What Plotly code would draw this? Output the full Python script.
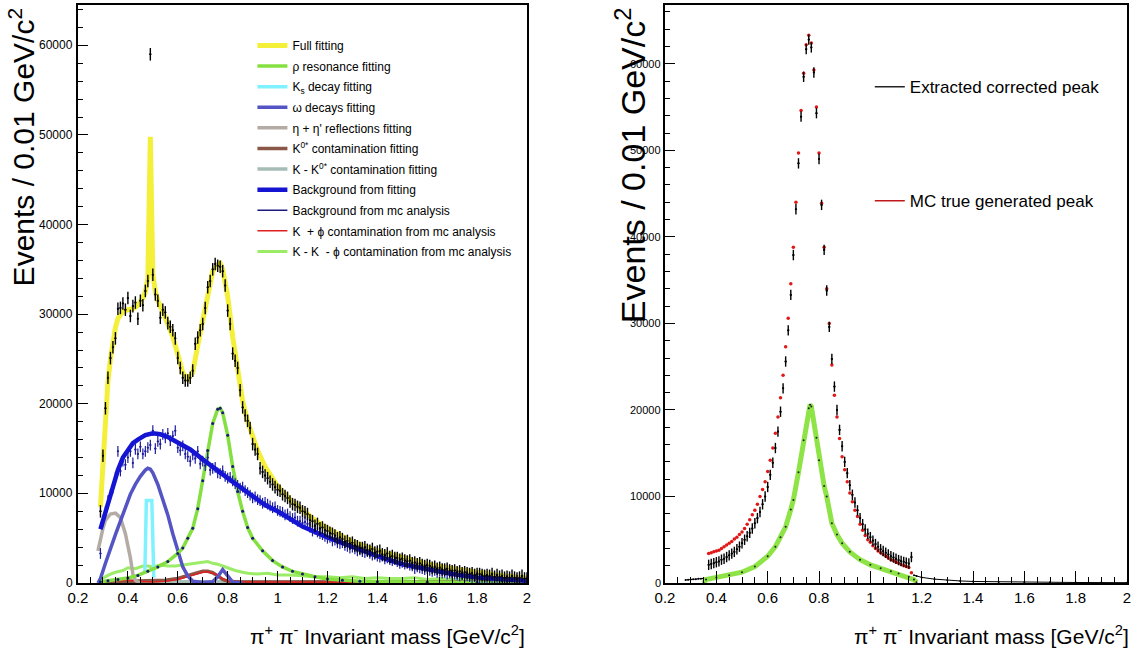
import plotly.graph_objects as go

FONT = "Liberation Sans, Arial, Helvetica, sans-serif"

# ---------------- LEFT PANEL DATA ----------------
# bin centres (0.01 GeV/c^2 bins) from 0.29 to 2.00
bins_left = [round(0.29 + 0.01 * i, 2) for i in range(172)]

data_events = [
    8000, 14200, 19500, 22900, 25100, 26300, 27300, 30600, 30700, 31200,
    30500, 31800, 29800, 30900, 31300, 29500, 31500, 31000, 32600, 33700,
    59000, 34400, 32200, 31500, 29600, 30500, 30200, 29000, 28600, 28200,
    27300, 25100, 24000, 22900, 22600, 22600, 22900, 23700, 26700, 27400,
    28200, 28900, 30700, 33000, 33700, 35000, 35600, 35400, 35300, 34800,
    33200, 30400, 28900, 25600, 24800, 24000, 21500, 19600, 18700, 18100,
    17300, 15500, 14900, 14400, 12800, 12400, 12000, 11700, 11300, 11000,
    10700, 10400, 10300, 9900, 9700, 9500, 9100, 8800, 8700, 8500,
    8400, 8000, 7900, 7700, 7000, 6900, 6400, 6600, 6100, 6200,
    5900, 5800, 5600, 5500, 5300, 5000, 5100, 4900, 4600, 4700,
    4400, 4500, 4200, 4100, 3900, 3900, 4000, 3700, 3600, 3800,
    3400, 3500, 3600, 3200, 3100, 3300, 2900, 3000, 2800, 2800,
    2600, 2700, 2500, 2400, 2500, 2200, 2300, 2100, 2200, 2000,
    1900, 2000, 1900, 1700, 1800, 1600, 1700, 1500, 1500, 1600,
    1400, 1300, 1400, 1200, 1300, 1100, 1200, 1100, 1000, 1100,
    900, 1000, 1000, 900, 800, 900, 800, 1000, 700, 900,
    700, 800, 600, 700, 600, 800, 600, 500, 600, 800,
    500, 500,
]

bkg_mc_events = [
    3300, 6900, 8000, 9200, 9900, 10600, 11800, 14700, 12500, 13600,
    13200, 14000, 14700, 13400, 14900, 14400, 15200, 14400, 14700, 15100,
    15400, 17000, 15000, 15800, 15500, 16600, 16200, 16700, 15900, 16400,
    17000, 15100, 14800, 15300, 14400, 14100, 13600, 14300, 13900, 14700,
    13300, 13600, 13100, 14000, 12600, 12800, 12900, 12300, 12200, 12500,
    11900, 11700, 11800, 11400, 11100, 10900, 10600, 10700, 10300, 10100,
    9800, 9500, 9600, 9300, 9200, 8900, 9000, 8800, 8600, 8400,
    8500, 8100, 8000, 7900, 7600, 7700, 7400, 7200, 7300, 6900,
    6900, 6700, 6800, 6600, 6200, 5800, 6000, 5700, 5500, 5400,
    5200, 5000, 5100, 4700, 4800, 4500, 4400, 4500, 4200, 4100,
    3900, 4000, 3800, 3600, 3700, 3500, 3400, 3500, 3300, 3100,
    3200, 3000, 2900, 3000, 2700, 2800, 2600, 2500, 2600, 2400,
    2200, 2300, 2100, 2200, 2000, 1900, 1600, 1800, 1700, 1600,
    1500, 1600, 1400, 1300, 1400, 1200, 1300, 1100, 1200, 1000,
    1100, 900, 1000, 900, 800, 900, 700, 800, 700, 600,
    700, 600, 500, 600, 500, 400, 500, 400, 500, 300,
    400, 300, 400, 300, 200, 300, 200, 300, 200, 200,
    200, 100,
]

full_fit_x = [0.29, 0.30, 0.31, 0.32, 0.33, 0.34, 0.35, 0.36, 0.38, 0.40, 0.42, 0.44,
              0.46, 0.47, 0.48, 0.485, 0.49, 0.495, 0.50, 0.51, 0.52, 0.54, 0.56, 0.58,
              0.60, 0.62, 0.64, 0.66, 0.68, 0.70, 0.72, 0.74, 0.76, 0.77, 0.78, 0.80,
              0.82, 0.84, 0.86, 0.88, 0.90, 0.92, 0.95, 1.00, 1.05, 1.10, 1.15, 1.20,
              1.25, 1.30, 1.40, 1.50, 1.60, 1.70, 1.80, 1.90, 2.00]
full_fit_y = [8500, 14000, 19000, 22500, 25000, 27000, 28500, 29500, 30300, 30500, 30600, 31000,
              31800, 32500, 34000, 42000, 49800, 42000, 34500, 32500, 31500, 30300, 29000, 27500,
              25500, 23500, 22700, 23500, 26500, 29500, 32500, 34800, 35600, 35700, 35000, 32000,
              27500, 23500, 20300, 18000, 16200, 14800, 13000, 10800, 9300, 8100, 7000, 6100,
              5300, 4600, 3600, 2800, 2100, 1600, 1150, 800, 550]

rho_fit_x = [0.29, 0.32, 0.36, 0.40, 0.44, 0.48, 0.52, 0.56, 0.60, 0.62, 0.64, 0.66,
             0.68, 0.70, 0.72, 0.74, 0.76, 0.77, 0.78, 0.80, 0.82, 0.84, 0.86, 0.88,
             0.90, 0.94, 0.98, 1.02, 1.06, 1.10, 1.15, 1.20, 1.26, 1.33, 1.40, 1.60,
             1.80, 2.00]
rho_fit_y = [150, 250, 400, 560, 850, 1300, 1800, 2400, 3300, 3900, 5000, 6100,
             8300, 11400, 14800, 17800, 19400, 19500, 19000, 16500, 13000, 10200, 8000, 6200,
             5000, 3600, 2500, 1800, 1300, 1000, 700, 450, 300, 200, 150, 100,
             80, 60]

ks_fit_x = [0.468, 0.474, 0.485, 0.496, 0.504]
ks_fit_y = [1000, 9200, 9200, 9200, 600]

omega_fit_x = [0.28, 0.29, 0.31, 0.33, 0.35, 0.37, 0.39, 0.41, 0.43, 0.45, 0.47, 0.48,
               0.49, 0.50, 0.52, 0.54, 0.56, 0.58, 0.60, 0.62, 0.64, 0.66, 0.70, 0.74,
               0.76, 0.78, 0.80, 0.82, 0.86]
omega_fit_y = [0, 500, 2200, 3900, 5400, 6900, 8500, 9900, 11000, 11900, 12600, 12800,
               12700, 12300, 11000, 9400, 7600, 5500, 3500, 1800, 800, 200, 50, 150,
               700, 1500, 800, 100, 0]

eta_fit_x = [0.28, 0.29, 0.30, 0.31, 0.33, 0.35, 0.37, 0.39, 0.40, 0.41, 0.42, 0.43, 0.45]
eta_fit_y = [3600, 5000, 6100, 7000, 7700, 7800, 7300, 5500, 4200, 2800, 1000, 300, 0]

k0s_fit_x = [0.29, 0.40, 0.50, 0.55, 0.60, 0.64, 0.67, 0.70, 0.72, 0.74, 0.76, 0.78,
             0.80, 0.85, 1.00, 1.20, 1.40, 1.60, 1.80, 2.00]
k0s_fit_y = [100, 150, 200, 300, 500, 800, 1100, 1300, 1300, 1150, 800, 400,
             200, 100, 100, 150, 150, 150, 150, 150]

kk0s_fit_x = [0.29, 0.50, 0.80, 1.00, 1.20, 1.50, 2.00]
kk0s_fit_y = [100, 150, 150, 150, 150, 120, 100]

bkg_fit_x = [0.29, 0.30, 0.32, 0.34, 0.36, 0.38, 0.40, 0.42, 0.44, 0.47, 0.50, 0.53,
             0.56, 0.60, 0.65, 0.70, 0.75, 0.80, 0.85, 0.90, 0.95, 1.00, 1.10, 1.20,
             1.30, 1.40, 1.50, 1.60, 1.70, 1.80, 1.90, 2.00]
bkg_fit_y = [6000, 6900, 8900, 10900, 12600, 14000, 14900, 15600, 16000, 16500, 16700, 16600,
             16300, 15700, 14900, 13800, 12700, 11700, 10700, 9700, 8700, 8000, 6300, 5100,
             4000, 3000, 2100, 1500, 1000, 620, 400, 250]

kphi_mc_x = [0.29, 0.35, 0.40, 0.45, 0.50, 0.55, 0.60, 0.65, 0.70, 0.72, 0.75, 0.78,
             0.80, 0.90, 1.00, 1.20, 1.50, 2.00]
kphi_mc_y = [200, 300, 300, 200, 100, 200, 400, 800, 1200, 1250, 1000, 500,
             200, 100, 100, 50, 50, 50]

kkphi_mc_x = [0.29, 0.31, 0.33, 0.35, 0.38, 0.40, 0.43, 0.46, 0.48, 0.50, 0.53, 0.56,
              0.59, 0.62, 0.65, 0.68, 0.70, 0.72, 0.74, 0.76, 0.78, 0.80, 0.83, 0.86,
              0.88, 0.92, 0.96, 1.00, 1.05, 1.10, 1.14, 1.20, 1.25, 1.30, 1.35, 1.40,
              1.45, 1.50, 1.55, 1.60, 1.65, 1.70, 1.75, 1.80, 1.85, 1.90, 1.95, 2.00]
kkphi_mc_y = [400, 700, 1000, 1200, 1400, 1700, 1600, 1900, 1900, 1800, 2000, 1900,
              1900, 2000, 2100, 2200, 2300, 2400, 2200, 2100, 1900, 1700, 1400, 1200,
              1100, 1000, 1100, 900, 900, 800, 700, 700, 600, 700, 500, 600,
              500, 500, 600, 400, 500, 400, 400, 300, 400, 300, 300, 300]

# ---------------- RIGHT PANEL DATA ----------------
bins_right = [round(0.37 + 0.01 * i, 2) for i in range(80)]

extracted_peak = [
    2100, 2200, 2300, 2400, 2500, 2700, 2800, 3000, 3200, 3400,
    3600, 3900, 4200, 4600, 5000, 5400, 5800, 6300, 6900, 7500,
    8200, 9100, 10000, 11100, 12500, 13900, 15600, 17500, 19800, 22500,
    25600, 29200, 33300, 37900, 43200, 48500, 53900, 58500, 61700, 62800,
    61900, 59000, 54300, 49000, 43700, 38500, 33800, 29600, 25900, 22700,
    20000, 17700, 15800, 14000, 12700, 11300, 10200, 9300, 8400, 7500,
    6800, 6200, 5700, 5300, 4900, 4500, 4200, 3900, 3700, 3500,
    3300, 3100, 2950, 2800, 2650, 2550, 2450, 2350, 2250, 3000,
]

mc_true_peak = [
    3400, 3500, 3600, 3700, 3800, 4000, 4200, 4400, 4600, 4800,
    5100, 5300, 5600, 5900, 6300, 6800, 7300, 7900, 8400, 9100,
    10000, 10800, 11700, 12900, 14200, 15600, 17300, 19200, 21400, 24000,
    27300, 30600, 34600, 38800, 44000, 49700, 54600, 58900, 62200, 63300,
    62400, 59300, 55000, 49700, 43900, 38800, 34000, 30000, 25200, 21700,
    19200, 16700, 14600, 13100, 11700, 10400, 9400, 8400, 7700, 6800,
    6100, 5500, 5000, 4700, 4300, 4000, 3700, 3500, 3300, 3100,
    2900, 2700, 2600, 2400, 2300, 2150, 2000, 1900, 1800, 1200,
]

tail_x = [0.28, 0.29, 0.30, 0.31, 0.32, 0.33, 0.34, 0.35, 0.36, None,
          1.17, 1.18, 1.20, 1.25, 1.30, 1.35, 1.40, 1.50, 1.60, 1.70, 1.80, 1.90, 2.00]
tail_y = [350, 380, 400, 430, 450, 480, 500, 520, 560, None,
          900, 800, 650, 450, 320, 240, 180, 130, 100, 80, 60, 50, 40]

rho_right_x = [0.35, 0.36, 0.40, 0.45, 0.50, 0.55, 0.60, 0.63, 0.65, 0.67, 0.69, 0.70,
               0.72, 0.74, 0.76, 0.765, 0.77, 0.79, 0.80, 0.82, 0.83, 0.85, 0.87, 0.89,
               0.92, 0.96, 1.00, 1.04, 1.08, 1.11, 1.15, 1.17, 1.18]
rho_right_y = [0, 400, 650, 900, 1250, 1900, 3100, 4200, 5300, 6500, 8500, 9600,
               12800, 16500, 20200, 20600, 20400, 16800, 14200, 11200, 10000, 6900, 5600, 4600,
               3600, 2700, 2100, 1700, 1350, 1100, 730, 400, 100]

# y tick labels (both panels)
y_tick_values = [0, 10000, 20000, 30000, 40000, 50000, 60000]
y_tick_labels = ["0", "10000", "20000", "30000", "40000", "50000", "60000"]

# ---------------- FIGURE ----------------
fig = go.Figure()

def line_trace(x, y, name, color, width, rank, xa="x", ya="y", legend="legend", show=True):
    return go.Scatter(x=x, y=y, mode="lines", name=name, xaxis=xa, yaxis=ya,
                      line=dict(color=color, width=width), legendgroup=name,
                      legendrank=rank, legend=legend, showlegend=show, hoverinfo="skip")

# left panel, back to front
fig.add_trace(line_trace(kkphi_mc_x, kkphi_mc_y, "K - K  - ϕ contamination from mc analysis", "#9cec68", 3, 11))
fig.add_trace(line_trace(kk0s_fit_x, kk0s_fit_y, "K - K<sup>0*</sup> contamination fitting", "#a6bcb6", 3.5, 7))
fig.add_trace(line_trace(k0s_fit_x, k0s_fit_y, "K<sup>0*</sup> contamination fitting", "#8a5646", 3.5, 6))
fig.add_trace(line_trace(kphi_mc_x, kphi_mc_y, "K  + ϕ contamination from mc analysis", "#e02020", 1.5, 10))
fig.add_trace(line_trace(ks_fit_x, ks_fit_y, "K<sub>s</sub> decay fitting", "#80f2ff", 3.5, 3))
fig.add_trace(line_trace(eta_fit_x, eta_fit_y, "η + η' reflections fitting", "#b4aca4", 3.5, 5))
fig.add_trace(line_trace(omega_fit_x, omega_fit_y, "ω decays fitting", "#5454c4", 3.5, 4))
fig.add_trace(line_trace(rho_fit_x, rho_fit_y, "ρ resonance fitting", "#84e040", 3.5, 2))
fig.add_trace(go.Scatter(x=rho_fit_x, y=rho_fit_y, mode="markers", showlegend=False,
                         marker=dict(color="#1a1a70", size=3), hoverinfo="skip"))
fig.add_trace(line_trace(full_fit_x, full_fit_y, "Full fitting", "#f4f03a", 5, 1))
fig.add_trace(go.Scatter(x=bins_left, y=bkg_mc_events, mode="markers", showlegend=False,
                         marker=dict(color="#1c1c9c", size=2),
                         error_y=dict(type="constant", value=600, color="#1c1c9c", thickness=1.2, width=0),
                         error_x=dict(type="constant", value=0.004, color="#1c1c9c", thickness=1.2, width=0),
                         hoverinfo="skip"))
fig.add_trace(line_trace(bkg_fit_x, bkg_fit_y, "Background from fitting", "#1414d2", 4.5, 8))
fig.add_trace(line_trace([None], [None], "Background from mc analysis", "#1a1a80", 1.5, 9))
fig.add_trace(go.Scatter(x=bins_left, y=data_events, mode="markers", showlegend=False,
                         marker=dict(color="black", size=2),
                         error_y=dict(type="constant", value=700, color="black", thickness=1.4, width=0),
                         error_x=dict(type="constant", value=0.004, color="black", thickness=1.4, width=0),
                         hoverinfo="skip"))

# right panel
fig.add_trace(go.Scatter(x=tail_x, y=tail_y, mode="lines+markers", showlegend=False,
                         xaxis="x2", yaxis="y2", line=dict(color="black", width=1),
                         marker=dict(color="black", size=2), hoverinfo="skip"))
fig.add_trace(go.Scatter(x=rho_right_x, y=rho_right_y, mode="lines", showlegend=False,
                         xaxis="x2", yaxis="y2", line=dict(color="#8ee446", width=5),
                         hoverinfo="skip"))
fig.add_trace(go.Scatter(x=rho_right_x, y=rho_right_y, mode="markers", showlegend=False,
                         xaxis="x2", yaxis="y2", marker=dict(color="#202020", size=2),
                         hoverinfo="skip"))
fig.add_trace(go.Scatter(x=bins_right, y=mc_true_peak, mode="markers", showlegend=False,
                         xaxis="x2", yaxis="y2", marker=dict(color="#e01818", size=3.5),
                         hoverinfo="skip"))
fig.add_trace(go.Scatter(x=bins_right, y=extracted_peak, mode="markers", showlegend=False,
                         xaxis="x2", yaxis="y2", marker=dict(color="black", size=2),
                         error_y=dict(type="constant", value=600, color="black", thickness=1.4, width=0),
                         error_x=dict(type="constant", value=0.004, color="black", thickness=1.4, width=0),
                         hoverinfo="skip"))
fig.add_trace(line_trace([None], [None], "Extracted corrected peak", "#222222", 1.5, 1,
                         xa="x2", ya="y2", legend="legend2"))
fig.add_trace(line_trace([None], [None], "MC true generated peak", "#c01818", 1.5, 2,
                         xa="x2", ya="y2", legend="legend2"))

YDOM = [0.1153, 0.9924]
XDOM_L = [0.0686, 0.4635]
XDOM_R = [0.5849, 0.9912]

def xaxis_style(domain, anchor):
    return dict(domain=domain, range=[0.2, 2.0], anchor=anchor, tick0=0.2, dtick=0.2,
                ticks="inside", ticklen=12, tickwidth=1.2, tickcolor="black",
                minor=dict(dtick=0.05, tick0=0.2, ticks="inside", ticklen=6, tickcolor="black"),
                showline=True, linecolor="black", linewidth=1.5, mirror=True,
                showgrid=False, zeroline=False, automargin=False,
                tickfont=dict(family=FONT, size=15, color="black"))

def yaxis_style(rng, anchor):
    return dict(domain=YDOM, range=rng, anchor=anchor, tickvals=y_tick_values,
                showticklabels=False,
                ticks="inside", ticklen=10, tickwidth=1.2, tickcolor="black",
                minor=dict(dtick=2000, ticks="inside", ticklen=5, tickcolor="black"),
                showline=True, linecolor="black", linewidth=1.5, mirror=True,
                showgrid=False, zeroline=False, automargin=False)

xtitle = "π<sup>+</sup> π<sup>-</sup> Invariant mass [GeV/c<sup>2</sup>]"
ytitle = "Events / 0.01 GeV/c<sup>2</sup>"

annotations = [
    dict(text=xtitle, x=0.4635, y=0.036, xref="paper", yref="paper",
         xanchor="right", yanchor="middle", showarrow=False,
         font=dict(family=FONT, size=21, color="black")),
    dict(text=xtitle, x=0.9947, y=0.036, xref="paper", yref="paper",
         xanchor="right", yanchor="middle", showarrow=False,
         font=dict(family=FONT, size=21, color="black")),
    dict(text=ytitle, x=0.019, y=0.992, xref="paper", yref="paper", textangle=-90,
         xanchor="center", yanchor="top", showarrow=False,
         font=dict(family=FONT, size=30, color="black")),
    dict(text=ytitle, x=0.554, y=0.992, xref="paper", yref="paper", textangle=-90,
         xanchor="center", yanchor="top", showarrow=False,
         font=dict(family=FONT, size=34, color="black")),
]
for v, lab in zip(y_tick_values, y_tick_labels):
    annotations.append(dict(text=lab, x=XDOM_L[0] - 0.003, y=v, xref="paper", yref="y",
                            xanchor="right", yanchor="middle", showarrow=False,
                            font=dict(family=FONT, size=12, color="black")))
    annotations.append(dict(text=lab, x=XDOM_R[0] - 0.002, y=v, xref="paper", yref="y2",
                            xanchor="right", yanchor="middle", showarrow=False,
                            font=dict(family=FONT, size=11, color="black")))

fig.update_layout(
    width=1137, height=659,
    margin=dict(l=0, r=0, t=0, b=0, autoexpand=False),
    paper_bgcolor="white", plot_bgcolor="white",
    font=dict(family=FONT, color="black"),
    xaxis=xaxis_style(XDOM_L, "y"),
    yaxis=yaxis_style([0, 64500], "x"),
    xaxis2=xaxis_style(XDOM_R, "y2"),
    yaxis2=yaxis_style([0, 66800], "x2"),
    legend=dict(x=0.222, y=0.953, xanchor="left", yanchor="top", bgcolor="rgba(0,0,0,0)",
                font=dict(family=FONT, size=12, color="black"), tracegroupgap=1.6,
                traceorder="grouped"),
    legend2=dict(x=0.765, y=0.895, xanchor="left", yanchor="top", bgcolor="rgba(0,0,0,0)",
                 font=dict(family=FONT, size=17, color="black"), tracegroupgap=89,
                 traceorder="grouped"),
    annotations=annotations,
)

fig.write_html("out.html")
